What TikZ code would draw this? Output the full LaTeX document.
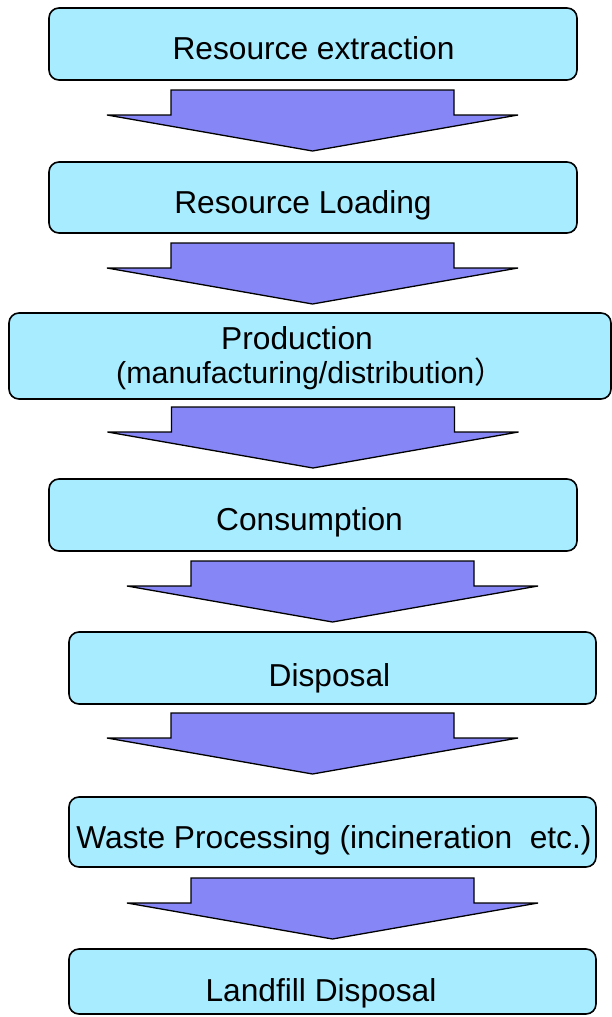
\documentclass[tikz,border=0pt]{standalone}
\usepackage{fontspec}
\setmainfont{Liberation Sans}
\newfontfamily\cjkfont{Noto Sans CJK JP}
\definecolor{boxfill}{RGB}{168,236,255}
\definecolor{arrowfill}{RGB}{134,134,246}
\begin{document}
\begin{tikzpicture}[x=1pt,y=-1pt,
  stagebox/.style={draw=black, line width=1.6pt, fill=boxfill, rounded corners=10pt,
    inner sep=0pt, outer sep=0pt},
  stagetext/.style={inner sep=0pt, anchor=base, font=\fontsize{31.7}{34}\selectfont},
  flowarrow/.style={draw=black, line width=1.3pt, fill=arrowfill, line join=miter}]
\useasboundingbox (0,0) rectangle (612,1017);

% block arrow: centre x, top of shaft
\newcommand{\blockarrow}[3]{%
  \draw[flowarrow] (#1-141.5,#2) -- (#1+141.5,#2) -- (#1+141.5,#2+25)
    -- (#1+205.5,#2+25) -- (#1,#2+61) -- (#1-205.5,#2+25)
    -- (#1-141.5,#2+25) -- cycle;
  \coordinate (#3) at (#1,#2+61);}

% stages
\node[stagebox, minimum width=528pt, minimum height=72pt] (s1) at (313,44) {};
\node[stagetext] (t1) at (313.5,59) {Resource extraction};

\node[stagebox, minimum width=528pt, minimum height=71pt] (s2) at (313,197.5) {};
\node[stagetext] (t2) at (303,213) {Resource Loading};

\node[stagebox, minimum width=602pt, minimum height=86pt] (s3) at (310,356) {};
\node[stagetext] (t3a) at (297,349) {Production};
\node[stagetext, anchor=base west, font=\fontsize{30.4}{34}\selectfont] (t3b) at (116,383)
  {(manufacturing/distribution{\cjkfont\fontsize{30}{34}\selectfont ）}};

\node[stagebox, minimum width=528pt, minimum height=72pt] (s4) at (313,515) {};
\node[stagetext] (t4) at (309.5,530) {Consumption};

\node[stagebox, minimum width=527pt, minimum height=72pt] (s5) at (332.5,668) {};
\node[stagetext] (t5) at (329.5,686) {Disposal};

\node[stagebox, minimum width=527pt, minimum height=70pt] (s6) at (332.5,832) {};
\node[stagetext] (t6) at (334,848) {Waste Processing (incineration~ etc.)};

\node[stagebox, minimum width=527pt, minimum height=65pt] (s7) at (332.5,981.5) {};
\node[stagetext] (t7) at (321,1001) {Landfill Disposal};

% flow arrows between stages
\blockarrow{312.5}{90}{a1}
\blockarrow{312.5}{243}{a2}
\blockarrow{313}{407}{a3}
\blockarrow{332.5}{561}{a4}
\blockarrow{312.5}{713}{a5}
\blockarrow{332.5}{878}{a6}
\end{tikzpicture}
\end{document}
